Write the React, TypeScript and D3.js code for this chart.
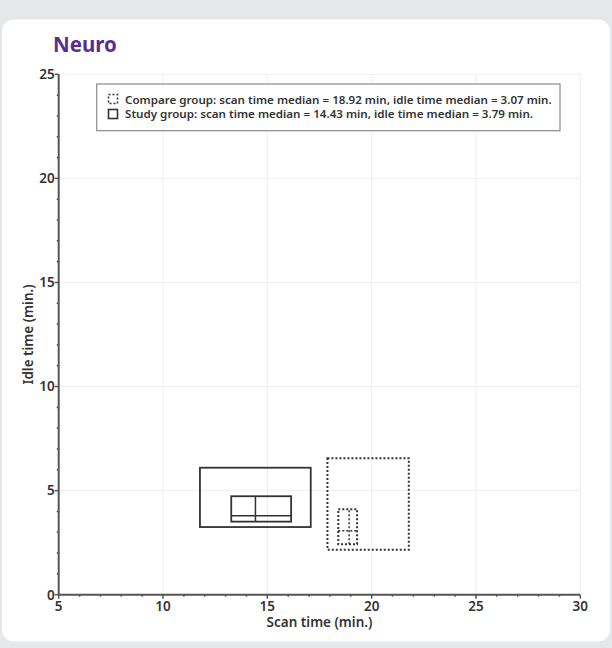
import React from "react";
import * as d3 from "d3";

const title = "Neuro";
const xLabel = "Scan time (min.)";
const yLabel = "Idle time (min.)";
const xTicks = [5, 10, 15, 20, 25, 30];
const yTicks = [0, 5, 10, 15, 20, 25];
const groups = ["Compare", "Study"];
const scanWhisker = [[17.88, 21.78], [11.77, 17.08]];
const scanIQR = [[18.4, 19.3], [13.27, 16.14]];
const scanMedian = [18.92, 14.43];
const idleWhisker = [[2.16, 6.56], [3.25, 6.1]];
const idleIQR = [[2.42, 4.11], [3.51, 4.73]];
const idleMedian = [3.07, 3.79];
const legendTexts = [
  "Compare group: scan time median = 18.92 min, idle time median = 3.07 min.",
  "Study group: scan time median = 14.43 min, idle time median = 3.79 min.",
];

const W = 612;
const H = 648;
const FONT = "'Noto Sans', 'Open Sans', sans-serif";

export default function App() {
  const x = d3.scaleLinear().domain([5, 30]).range([58.7, 580.3]);
  const y = d3.scaleLinear().domain([0, 25]).range([594.7, 74.3]);
  const xMinor = d3.range(5, 31, 1);
  const yMinor = d3.range(0, 26, 1);
  const axisColor = "#555";
  const textColor = "#333";
  const boxColor = "#333";

  const dash = (i: number) => (i === 0 ? "2,2" : undefined);

  return (
    <svg width={W} height={H} style={{ position: "absolute", left: 0, top: 0 }} xmlns="http://www.w3.org/2000/svg">
      <rect x={0} y={0} width={W} height={H} fill="#e6e7e9" />
      <rect x={2} y={19.5} width={608} height={622} rx={12} fill="#ffffff" />
      <text x={53} y={51.7} fontFamily={FONT} fontWeight={700} fontSize={20.5} fill="#5c2d91">{title}</text>

      {/* grid */}
      {xTicks.filter((t) => t > 5).map((t) => (
        <line key={"gx" + t} x1={x(t)} x2={x(t)} y1={y(0)} y2={y(25)} stroke="#efefef" strokeWidth={1} />
      ))}
      {yTicks.filter((t) => t > 0).map((t) => (
        <line key={"gy" + t} x1={x(5)} x2={x(30)} y1={y(t)} y2={y(t)} stroke="#efefef" strokeWidth={1} />
      ))}

      {/* boxes */}
      {groups.map((g, i) => {
        const da = dash(i);
        const sw = i === 0 ? 2 : 1.8;
        return (
          <g key={g} fill="none" stroke={boxColor} strokeDasharray={da}>
            <rect
              x={x(scanWhisker[i][0])}
              y={y(idleWhisker[i][1])}
              width={x(scanWhisker[i][1]) - x(scanWhisker[i][0])}
              height={y(idleWhisker[i][0]) - y(idleWhisker[i][1])}
              strokeWidth={sw}
            />
            <rect
              x={x(scanIQR[i][0])}
              y={y(idleIQR[i][1])}
              width={x(scanIQR[i][1]) - x(scanIQR[i][0])}
              height={y(idleIQR[i][0]) - y(idleIQR[i][1])}
              strokeWidth={sw}
            />
            <line x1={x(scanMedian[i])} x2={x(scanMedian[i])} y1={y(idleIQR[i][0])} y2={y(idleIQR[i][1])} strokeWidth={1.5} />
            <line x1={x(scanIQR[i][0])} x2={x(scanIQR[i][1])} y1={y(idleMedian[i])} y2={y(idleMedian[i])} strokeWidth={1.5} />
          </g>
        );
      })}

      {/* axes */}
      <line x1={x(5)} x2={x(30)} y1={y(0)} y2={y(0)} stroke={axisColor} strokeWidth={2} />
      <line x1={x(5)} x2={x(5)} y1={y(0)} y2={y(25)} stroke={axisColor} strokeWidth={2} />
      {xMinor.map((t) => (
        <line key={"xm" + t} x1={x(t)} x2={x(t)} y1={y(0)} y2={y(0) + (t % 5 === 0 ? 4 : 2)} stroke={axisColor} strokeWidth={1.5} />
      ))}
      {yMinor.map((t) => (
        <line key={"ym" + t} x1={x(5)} x2={x(5) - (t % 5 === 0 ? 4 : 2)} y1={y(t)} y2={y(t)} stroke={axisColor} strokeWidth={1.5} />
      ))}
      {xTicks.map((t) => (
        <text key={"xt" + t} x={x(t)} y={610.7} textAnchor="middle" fontFamily={FONT} fontWeight={600} fontSize={13.5} fill={textColor}>{t}</text>
      ))}
      {yTicks.map((t) => (
        <text key={"yt" + t} x={x(5) - 4} y={y(t)} dy="0.36em" textAnchor="end" fontFamily={FONT} fontWeight={600} fontSize={13.5} fill={textColor}>{t}</text>
      ))}
      <text x={(x(5) + x(30)) / 2} y={626.7} textAnchor="middle" fontFamily={FONT} fontWeight={600} fontSize={13.5} fill={textColor}>{xLabel}</text>
      <text transform={`translate(33,${(y(0) + y(25)) / 2}) rotate(-90)`} textAnchor="middle" fontFamily={FONT} fontWeight={600} fontSize={13.5} fill={textColor}>{yLabel}</text>

      {/* legend */}
      <rect x={96.7} y={84} width={463.3} height={46.7} fill="#fff" stroke="#8a8a8a" strokeWidth={1.2} />
      <rect x={108.5} y={94.5} width={9} height={9} fill="none" stroke={boxColor} strokeWidth={1.6} strokeDasharray="2,2" />
      <rect x={108.5} y={109.5} width={9} height={9} fill="none" stroke={boxColor} strokeWidth={1.6} />
      <text x={125} y={103.5} fontFamily={FONT} fontWeight={600} fontSize={11} fill={textColor} textLength={426.7} lengthAdjust="spacingAndGlyphs">{legendTexts[0]}</text>
      <text x={125} y={118} fontFamily={FONT} fontWeight={600} fontSize={11} fill={textColor} textLength={408} lengthAdjust="spacingAndGlyphs">{legendTexts[1]}</text>
    </svg>
  );
}
